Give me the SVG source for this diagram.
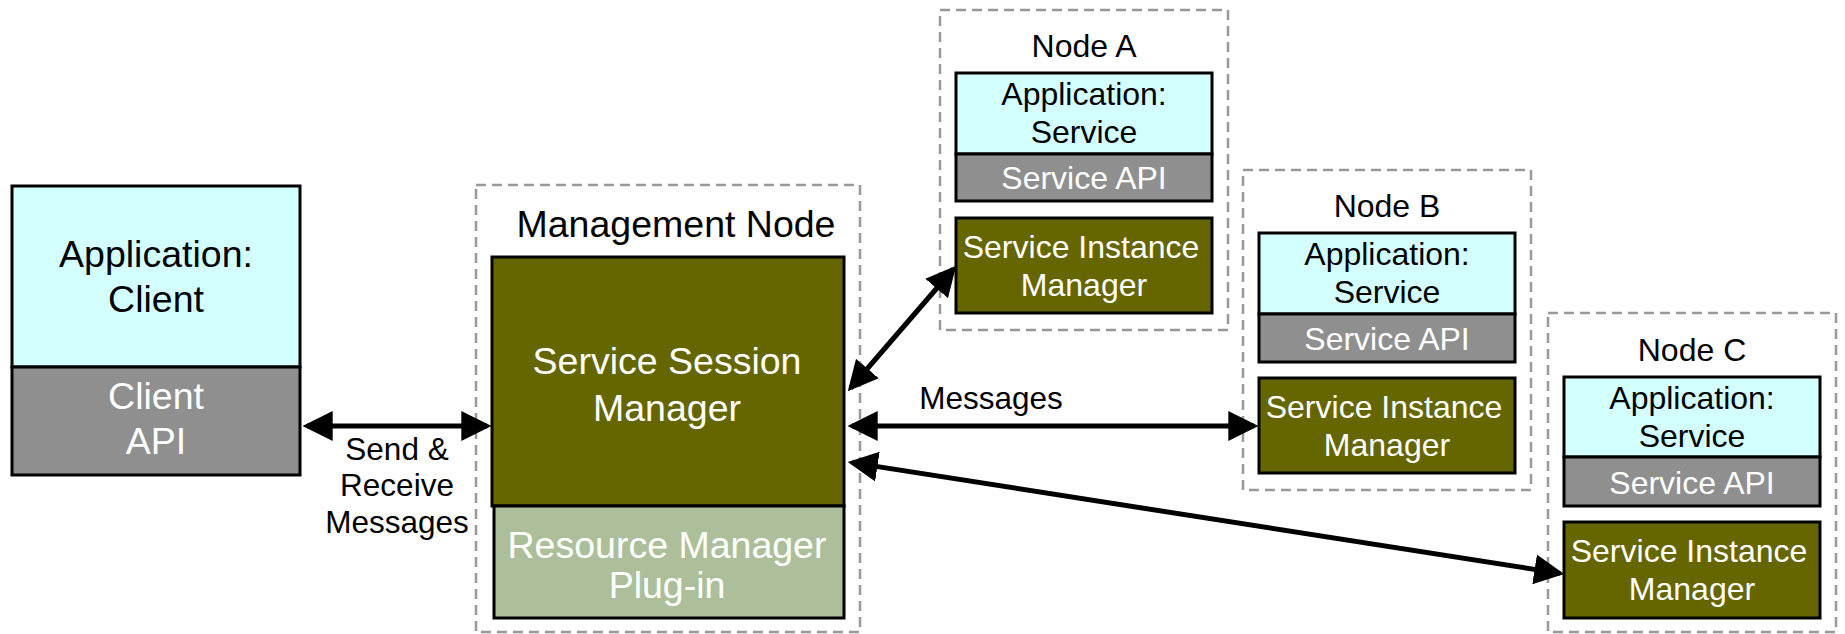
<svg xmlns="http://www.w3.org/2000/svg" width="1845" height="634" viewBox="0 0 1845 634">
<style>
text{font-family:"Liberation Sans",Arial,sans-serif;text-anchor:middle}
.big{font-size:37.5px}
.mid{font-size:32px}
.lbl{font-size:31.5px;fill:#000}
.blk{fill:#000}
.wht{fill:#fff}
.dash{fill:none;stroke:#999;stroke-width:2.5;stroke-dasharray:10 6}
.cyan{fill:#d4ffff;stroke:#000;stroke-width:3}
.gray{fill:#8f8f8f;stroke:#000;stroke-width:3}
.olive{fill:#666600;stroke:#000;stroke-width:3}
.sage{fill:#adbf9a;stroke:#000;stroke-width:3}
.conn{stroke:#000;stroke-width:5;fill:none;marker-start:url(#ah);marker-end:url(#ah)}
</style>
<defs>
<marker id="ah" markerUnits="userSpaceOnUse" markerWidth="30" markerHeight="30" refX="24" refY="14" orient="auto-start-reverse" viewBox="0 0 28 28">
<path d="M0,0 L28,14 L0,28 z" fill="#000"/>
</marker>
</defs>
<rect width="1845" height="634" fill="#fff"/>

<g id="client">
<rect class="cyan" x="12" y="186" width="288" height="181"/>
<rect class="gray" x="12" y="367" width="288" height="108"/>
<text class="big blk" x="156" y="267">Application:</text>
<text class="big blk" x="156" y="312">Client</text>
<text class="big wht" x="156" y="409">Client</text>
<text class="big wht" x="156" y="454">API</text>
</g>

<g id="management-node">
<rect class="dash" x="476" y="185" width="384" height="447"/>
<text class="big blk" x="676" y="237">Management Node</text>
<rect class="olive" x="492" y="257" width="352" height="249"/>
<rect class="sage" x="494" y="506" width="350" height="112"/>
<text class="big wht" x="667" y="374">Service Session</text>
<text class="big wht" x="667" y="421">Manager</text>
<text class="big wht" x="667" y="558">Resource Manager</text>
<text class="big wht" x="667" y="598">Plug-in</text>
</g>

<g id="node-a">
<rect class="dash" x="940" y="10" width="288" height="320"/>
<text class="mid blk" x="1084" y="57">Node A</text>
<rect class="cyan" x="956" y="73" width="256" height="81"/>
<rect class="gray" x="956" y="154" width="256" height="47"/>
<rect class="olive" x="956" y="218" width="256" height="95"/>
<text class="mid blk" x="1084" y="105">Application:</text>
<text class="mid blk" x="1084" y="143">Service</text>
<text class="mid wht" x="1084" y="189">Service API</text>
<text class="mid wht" x="1081" y="258">Service Instance</text>
<text class="mid wht" x="1084" y="296">Manager</text>
</g>

<g id="node-b">
<rect class="dash" x="1243" y="170" width="288" height="320"/>
<text class="mid blk" x="1387" y="217">Node B</text>
<rect class="cyan" x="1259" y="233" width="256" height="81"/>
<rect class="gray" x="1259" y="314" width="256" height="48"/>
<rect class="olive" x="1259" y="378" width="256" height="95"/>
<text class="mid blk" x="1387" y="265">Application:</text>
<text class="mid blk" x="1387" y="303">Service</text>
<text class="mid wht" x="1387" y="350">Service API</text>
<text class="mid wht" x="1384" y="418">Service Instance</text>
<text class="mid wht" x="1387" y="456">Manager</text>
</g>

<g id="node-c">
<rect class="dash" x="1548" y="313" width="288" height="319"/>
<text class="mid blk" x="1692" y="361">Node C</text>
<rect class="cyan" x="1564" y="377" width="256" height="80"/>
<rect class="gray" x="1564" y="457" width="256" height="49"/>
<rect class="olive" x="1564" y="522" width="256" height="96"/>
<text class="mid blk" x="1692" y="409">Application:</text>
<text class="mid blk" x="1692" y="447">Service</text>
<text class="mid wht" x="1692" y="494">Service API</text>
<text class="mid wht" x="1689" y="562">Service Instance</text>
<text class="mid wht" x="1692" y="600">Manager</text>
</g>

<g id="connectors">
<line class="conn" x1="307" y1="426" x2="487" y2="426"/>
<line class="conn" x1="850.6" y1="388" x2="953.4" y2="269"/>
<line class="conn" x1="852" y1="426" x2="1254" y2="426"/>
<line class="conn" x1="852" y1="462.6" x2="1560" y2="573.4"/>
<text class="lbl" x="397" y="460">Send &amp;</text>
<text class="lbl" x="397" y="496">Receive</text>
<text class="lbl" x="397" y="533">Messages</text>
<text class="lbl" x="991" y="409">Messages</text>
</g>
</svg>
